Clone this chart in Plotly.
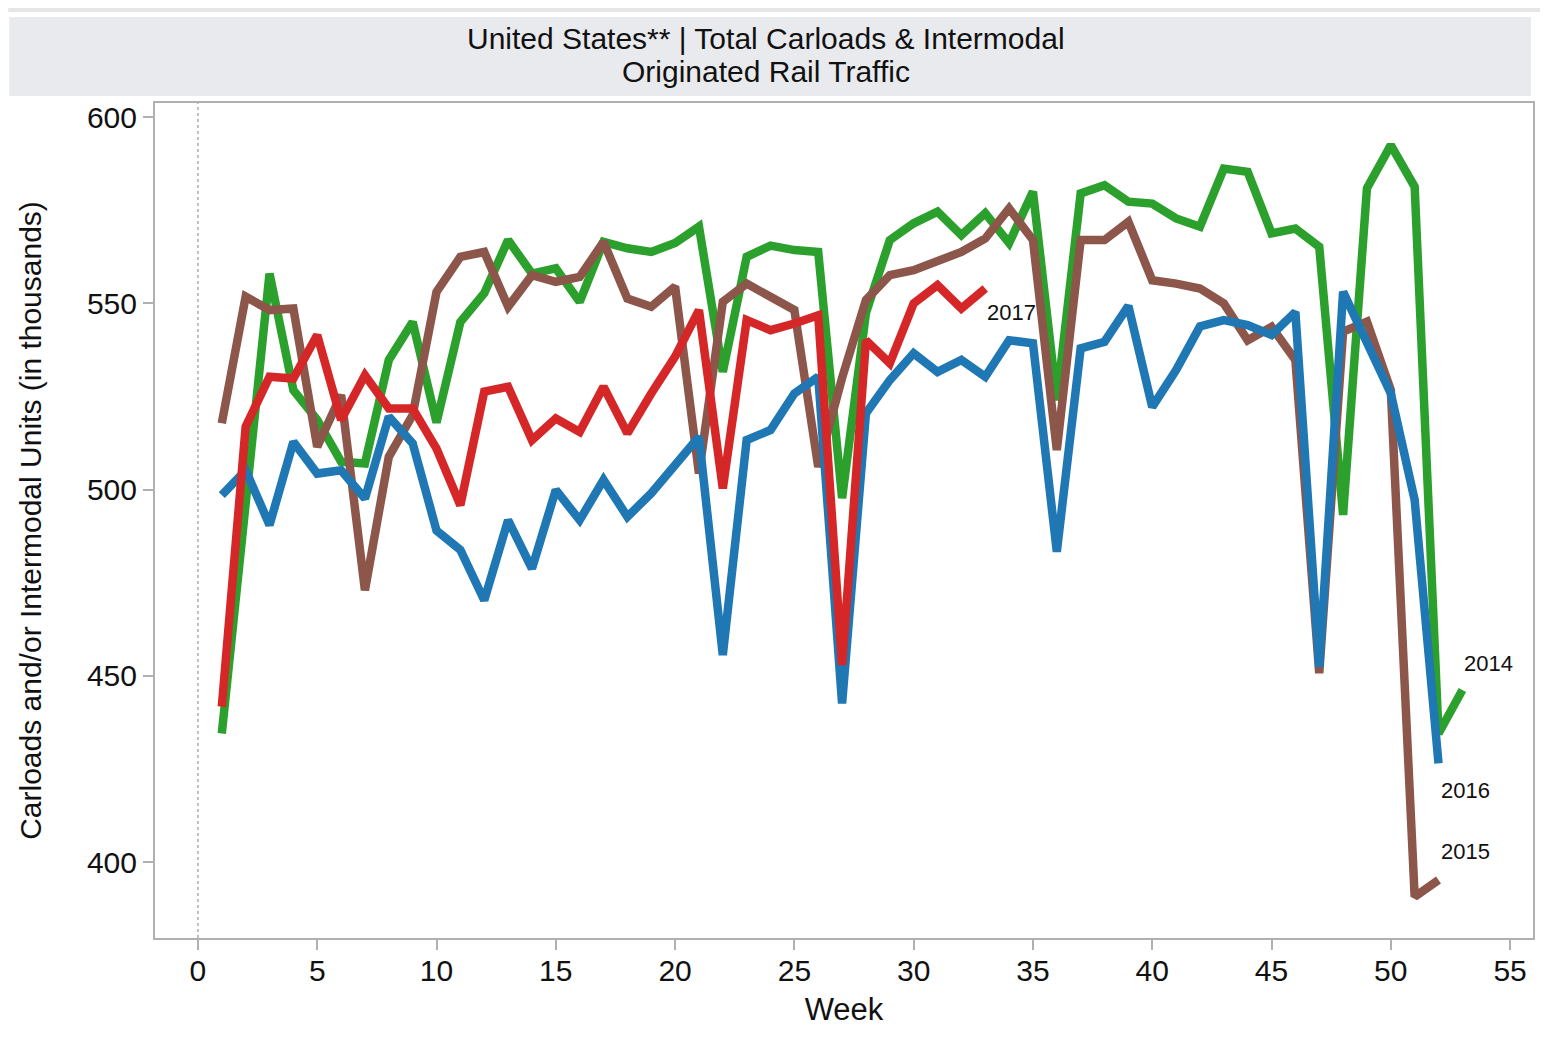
import plotly.graph_objects as go

# ---- data (thousands of carloads / intermodal units by week) ----
weeks_2014 = list(range(1, 54))
vals_2014 = [434.5, 496.0, 558.0, 526.7, 518.7, 507.5, 507.0, 534.8, 545.0, 518.0,
             545.0, 552.7, 567.0, 558.0, 559.4, 550.4, 566.5, 564.8, 563.8, 566.2,
             570.6, 531.6, 562.5, 565.5, 564.3, 563.8, 497.7, 547.4, 567.0, 571.5,
             574.6, 568.3, 574.2, 566.2, 580.0, 524.0, 579.5, 581.7, 577.3, 576.8,
             572.8, 570.6, 586.2, 585.3, 568.8, 570.1, 565.2, 493.2, 580.9, 592.5,
             581.3, 434.5, 446.2]

weeks_2015 = list(range(1, 53))
vals_2015 = [517.8, 551.8, 548.2, 548.6, 511.5, 525.4, 473.0, 508.8, 520.0, 553.1,
             562.5, 563.8, 549.1, 557.6, 555.8, 557.1, 566.5, 551.3, 549.1, 554.5,
             504.3, 550.4, 555.3, 551.8, 548.2, 506.1, 530.0, 550.9, 557.6, 558.9,
             561.6, 563.8, 567.4, 575.5, 567.0, 510.6, 567.0, 567.0, 571.9, 556.2,
             555.3, 554.0, 550.0, 540.1, 543.7, 534.8, 450.7, 542.4, 545.1, 526.7,
             390.7, 395.2]

weeks_2016 = list(range(1, 53))
vals_2016 = [498.5, 505.2, 490.5, 512.8, 504.3, 505.2, 497.6, 519.6, 512.4, 489.0,
             483.8, 470.3, 491.8, 478.8, 499.9, 491.8, 502.6, 492.7, 499.0, 507.0,
             514.2, 455.6, 513.3, 516.0, 525.8, 530.3, 442.6, 520.5, 529.4, 536.6,
             531.6, 534.8, 530.3, 540.1, 539.3, 483.3, 537.9, 539.7, 549.3, 522.2,
             532.1, 543.8, 545.5, 544.2, 541.5, 547.7, 452.4, 553.1, 540.0, 525.8,
             497.2, 426.5]

weeks_2017 = list(range(1, 34))
vals_2017 = [441.7, 516.9, 530.3, 529.8, 541.5, 518.7, 530.7, 521.8, 521.8, 511.0,
             495.8, 526.3, 527.6, 513.3, 519.1, 515.5, 527.6, 515.1, 525.8, 535.7,
             548.2, 500.3, 545.5, 542.8, 544.6, 546.8, 452.9, 540.1, 533.9, 550.0,
             554.9, 548.6, 554.0]

series = [
    ("2014", weeks_2014, vals_2014, "#2ca02c"),
    ("2015", weeks_2015, vals_2015, "#8c564b"),
    ("2016", weeks_2016, vals_2016, "#1f77b4"),
    ("2017", weeks_2017, vals_2017, "#d62728"),
]

x_ticks = [0, 5, 10, 15, 20, 25, 30, 35, 40, 45, 50, 55]
y_ticks = [400, 450, 500, 550, 600]

title_line1 = "United States** | Total Carloads & Intermodal"
title_line2 = "Originated Rail Traffic"
x_title = "Week"
y_title = "Carloads and/or Intermodal Units (in thousands)"

FONT = "Arial, 'Liberation Sans', sans-serif"

fig = go.Figure()
for name, xs, ys, col in series:
    fig.add_trace(go.Scatter(
        x=xs, y=ys, mode="lines", name=name,
        line=dict(color=col, width=8.5),
        hoverinfo="skip", showlegend=False,
    ))

# end-of-line labels
label_pos = {
    "2017": (33.0, 547.6),
    "2014": (53.0, 453.2),
    "2016": (52.0, 419.3),
    "2015": (52.0, 402.7),
}
for name, (lx, ly) in label_pos.items():
    fig.add_annotation(x=lx, y=ly, text=name, showarrow=False,
                       xanchor="left", yanchor="middle",
                       font=dict(family=FONT, size=22, color="#111111"))

# page offset (body margin of the html page)
OFF = 8
W, H = 1550 - 2 * OFF, 1057 - 2 * OFF
# target plot area in page pixels: x 155..1535, y 103..938
L, R, T, B = 155 - OFF, 1535 - OFF, 103 - OFF, 938 - OFF
pw, ph = R - L, B - T

def px(xp):  # page pixel -> paper x
    return (xp - OFF - L) / pw

def py(yp):  # page pixel -> paper y
    return (B - (yp - OFF)) / ph

shapes = [
    dict(type="rect", xref="paper", yref="paper",
         x0=px(9), x1=px(1533), y0=py(96), y1=py(17),
         fillcolor="#e9eaed", line=dict(width=0), layer="below"),
    dict(type="rect", xref="paper", yref="paper",
         x0=px(OFF), x1=px(1550 - OFF), y0=py(12), y1=py(OFF),
         fillcolor="#e6e6e6", line=dict(width=0), layer="below"),
    dict(type="line", xref="x", yref="paper", x0=0, x1=0, y0=0, y1=1,
         line=dict(color="#9a9a9a", width=1.2, dash="dot")),
]

for yy, txt in ((39, title_line1), (72, title_line2)):
    fig.add_annotation(xref="paper", yref="paper", x=px(767), y=py(yy), text=txt,
                       showarrow=False, xanchor="center", yanchor="middle",
                       font=dict(family=FONT, size=30, color="#111111"))

fig.update_layout(
    width=W, height=H,
    margin=dict(l=L, r=W - R, t=T, b=H - B, pad=0),
    paper_bgcolor="white", plot_bgcolor="white",
    font=dict(family=FONT, color="#111111"),
    shapes=shapes,
    showlegend=False,
)

fig.update_xaxes(
    range=[-1.8, 55.96], tickmode="array", tickvals=x_ticks,
    ticks="outside", ticklen=10, tickwidth=2, tickcolor="#b0b0b0",
    ticklabelstandoff=-5,
    showline=True, linecolor="#b0b0b0", linewidth=2, mirror=True,
    showgrid=False, zeroline=False,
    tickfont=dict(family=FONT, size=30, color="#111111"),
    title=dict(text=x_title, font=dict(family=FONT, size=31, color="#111111"), standoff=12),
)
fig.update_yaxes(
    range=[379.6, 603.8], tickmode="array", tickvals=y_ticks,
    ticks="outside", ticklen=10, tickwidth=2, tickcolor="#b0b0b0",
    showline=True, linecolor="#b0b0b0", linewidth=2, mirror=True,
    showgrid=False, zeroline=False,
    tickfont=dict(family=FONT, size=30, color="#111111"),
    title=dict(text=y_title, font=dict(family=FONT, size=30, color="#111111"), standoff=36),
)

fig.write_html("out.html")
